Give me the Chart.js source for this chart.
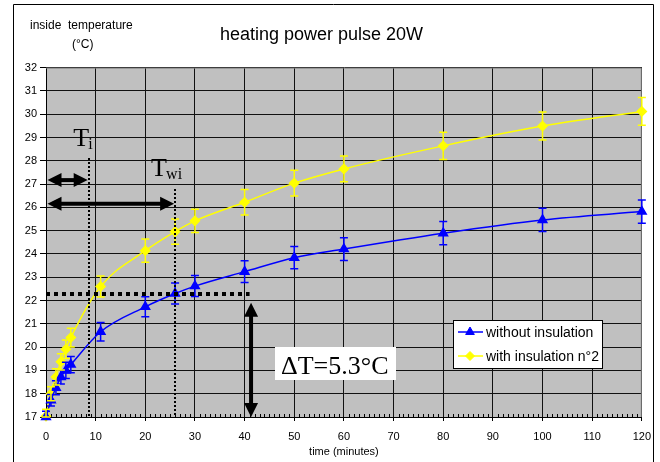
<!DOCTYPE html>
<html>
<head>
<meta charset="utf-8">
<script src="https://cdn.jsdelivr.net/npm/chart.js@4.4.1/dist/chart.umd.min.js"></script>
<style>
  html, body { margin: 0; padding: 0; background: #fff; }
  #wrap { width: 660px; height: 462px; }
</style>
</head>
<body>
<div id="wrap"><canvas id="chart" width="660" height="462"></canvas></div>
<script>
// time in minutes
const times = [0, 1, 2, 3, 4, 5, 11, 20, 26, 30, 40, 50, 60, 80, 100, 120];

const withoutInsulation = [17.0, 17.72, 18.26, 18.72, 19.0, 19.25, 20.66, 21.73, 22.3, 22.62, 23.24, 23.84, 24.21, 24.89, 25.46, 25.82];
const withoutErr = [0.25, 0.25, 0.3, 0.3, 0.35, 0.35, 0.4, 0.43, 0.45, 0.45, 0.47, 0.48, 0.49, 0.5, 0.5, 0.5];

const withInsulation = [17.03, 18.0, 18.72, 19.37, 19.91, 20.41, 22.6, 24.14, 24.96, 25.42, 26.22, 27.04, 27.65, 28.64, 29.49, 30.12];
const withErr = [0.3, 0.3, 0.35, 0.35, 0.4, 0.4, 0.45, 0.5, 0.54, 0.5, 0.55, 0.55, 0.55, 0.58, 0.6, 0.6];

const seriesNames = ["without insulation", "with insulation n°2"];

// annotation positions (data units)
const tiTime = 8.7;
const twiTime = 26;
const levelTemp = 22.3;
const deltaX = 41.3;

const sans = "Arial, 'Liberation Sans', sans-serif";
const serif = "'Times New Roman', 'Liberation Serif', serif";

function toPoints(values) {
  return times.map((t, i) => ({ x: t, y: values[i] }));
}

function arrowHead(ctx, x, y, angle, len, half) {
  ctx.save();
  ctx.translate(x, y);
  ctx.rotate(angle);
  ctx.beginPath();
  ctx.moveTo(0, 0);
  ctx.lineTo(-len, -half);
  ctx.lineTo(-len, half);
  ctx.closePath();
  ctx.fill();
  ctx.restore();
}

function doubleArrow(ctx, x1, y1, x2, y2) {
  const ang = Math.atan2(y2 - y1, x2 - x1);
  const len = 14;
  ctx.save();
  ctx.strokeStyle = "#000";
  ctx.fillStyle = "#000";
  ctx.lineWidth = 4;
  ctx.beginPath();
  ctx.moveTo(x1 + Math.cos(ang) * len * 0.8, y1 + Math.sin(ang) * len * 0.8);
  ctx.lineTo(x2 - Math.cos(ang) * len * 0.8, y2 - Math.sin(ang) * len * 0.8);
  ctx.stroke();
  arrowHead(ctx, x2, y2, ang, len, 7);
  arrowHead(ctx, x1, y1, ang + Math.PI, len, 7);
  ctx.restore();
}

const plotBackground = {
  id: "plotBackground",
  beforeDraw(chart) {
    const { ctx, chartArea: a } = chart;
    ctx.save();
    ctx.fillStyle = "#c0c0c0";
    ctx.fillRect(a.left, a.top, a.right - a.left, a.bottom - a.top);
    // outer frame
    ctx.strokeStyle = "#000";
    ctx.lineWidth = 1;
    ctx.beginPath();
    ctx.moveTo(13.5, 470);
    ctx.lineTo(13.5, 4.5);
    ctx.lineTo(653.5, 4.5);
    ctx.lineTo(653.5, 470);
    ctx.stroke();
    ctx.restore();
  },
  beforeDatasetsDraw(chart) {
    const { ctx, chartArea: a } = chart;
    const x = chart.scales.x;
    ctx.save();
    // grey border top/right of plot
    ctx.strokeStyle = "#808080";
    ctx.lineWidth = 1;
    ctx.beginPath();
    ctx.moveTo(a.left, a.top + 0.5);
    ctx.lineTo(a.right - 0.5, a.top + 0.5);
    ctx.lineTo(a.right - 0.5, a.bottom);
    ctx.stroke();
    // minor ticks on x axis
    ctx.strokeStyle = "#000";
    ctx.beginPath();
    for (let t = 1; t < 120; t++) {
      if (t % 10 === 0) continue;
      const px = Math.round(x.getPixelForValue(t)) + 0.5;
      ctx.moveTo(px, a.bottom);
      ctx.lineTo(px, a.bottom - 3);
    }
    ctx.stroke();
    // y axis title
    ctx.fillStyle = "#000";
    ctx.font = "12px " + sans;
    ctx.textBaseline = "middle";
    ctx.textAlign = "left";
    ctx.fillText("inside  temperature", 30, 26);
    ctx.fillText("(°C)", 72, 45);
    ctx.restore();
  }
};

const errorBars = {
  id: "errorBars",
  afterDatasetsDraw(chart) {
    const { ctx } = chart;
    const xs = chart.scales.x, ys = chart.scales.y;
    const sets = [
      { vals: withoutInsulation, err: withoutErr, color: "#0000ff" },
      { vals: withInsulation, err: withErr, color: "#ffff00" }
    ];
    ctx.save();
    ctx.lineWidth = 1.5;
    sets.forEach(s => {
      ctx.strokeStyle = s.color;
      ctx.beginPath();
      times.forEach((t, i) => {
        const px = xs.getPixelForValue(t);
        const top = ys.getPixelForValue(s.vals[i] + s.err[i]);
        const bot = ys.getPixelForValue(Math.max(17, s.vals[i] - s.err[i]));
        ctx.moveTo(px, top); ctx.lineTo(px, bot);
        ctx.moveTo(px - 4, top); ctx.lineTo(px + 4, top);
        ctx.moveTo(px - 4, bot); ctx.lineTo(px + 4, bot);
      });
      ctx.stroke();
    });
    ctx.restore();
  }
};

const annotations = {
  id: "annotations",
  afterDatasetsDraw(chart) {
    const { ctx } = chart;
    const xs = chart.scales.x, ys = chart.scales.y;
    const X = v => xs.getPixelForValue(v);
    const Y = v => ys.getPixelForValue(v);
    ctx.save();
    ctx.strokeStyle = "#000";
    // vertical dotted lines
    ctx.lineWidth = 2;
    ctx.setLineDash([2, 2]);
    ctx.beginPath();
    const xi = Math.round(X(tiTime)), xw = Math.round(X(twiTime));
    ctx.moveTo(xi, Math.round(Y(28.1))); ctx.lineTo(xi, Y(17));
    ctx.moveTo(xw, Math.round(Y(26.8))); ctx.lineTo(xw, Y(17));
    ctx.stroke();
    // horizontal level line
    ctx.lineWidth = 4;
    ctx.setLineDash([4, 4]);
    ctx.beginPath();
    ctx.moveTo(X(0), Math.round(Y(levelTemp))); ctx.lineTo(X(41), Math.round(Y(levelTemp)));
    ctx.stroke();
    ctx.setLineDash([]);
    // arrows
    doubleArrow(ctx, X(0.3), Y(27.17), X(tiTime - 0.3), Y(27.17));
    doubleArrow(ctx, X(0.3), Y(26.15), X(twiTime - 0.2), Y(26.15));
    doubleArrow(ctx, X(deltaX), Y(21.9), X(deltaX), Y(17));
    // labels
    ctx.fillStyle = "#000";
    ctx.textBaseline = "alphabetic";
    ctx.textAlign = "left";
    ctx.font = "26px " + serif;
    ctx.fillText("T", X(tiTime) - 16, Y(28.65));
    ctx.fillText("T", X(twiTime) - 24, Y(27.35));
    ctx.font = "16px " + serif;
    ctx.fillText("i", X(tiTime) - 1, Y(28.5));
    ctx.fillText("wi", X(twiTime) - 9, Y(27.2));
    // delta T box
    ctx.fillStyle = "#fff";
    ctx.fillRect(275, 347, 121, 33);
    ctx.fillStyle = "#000";
    ctx.font = "26px " + serif;
    ctx.fillText("ΔT=5.3°C", 281, 374);
    // legend
    const lx = 453, ly = 320;
    ctx.fillStyle = "#fff";
    ctx.fillRect(lx, ly, 149, 48);
    ctx.strokeStyle = "#000";
    ctx.lineWidth = 1;
    ctx.strokeRect(lx + 0.5, ly + 0.5, 149, 48);
    chart.data.datasets.forEach((ds, i) => {
      const cy = ly + 12 + i * 24;
      ctx.strokeStyle = ds.borderColor;
      ctx.lineWidth = 1.5;
      ctx.beginPath();
      ctx.moveTo(lx + 5, cy); ctx.lineTo(lx + 30, cy);
      ctx.stroke();
      ctx.fillStyle = ds.borderColor;
      ctx.strokeStyle = ds.borderColor;
      ctx.lineWidth = 1;
      Chart.helpers.drawPoint(ctx, { pointStyle: ds.pointStyle, radius: ds.pointRadius, borderWidth: 1 }, lx + 17, cy);
      ctx.fillStyle = "#000";
      ctx.font = "14px " + sans;
      ctx.textBaseline = "middle";
      ctx.fillText(seriesNames[i], lx + 33, cy + 1);
    });
    ctx.restore();
  }
};

new Chart(document.getElementById("chart"), {
  type: "line",
  data: {
    datasets: [
      {
        label: seriesNames[0],
        data: toPoints(withoutInsulation),
        borderColor: "#0000ff",
        backgroundColor: "#0000ff",
        borderWidth: 1.5,
        pointStyle: "triangle",
        pointRadius: 5,
        cubicInterpolationMode: "monotone",
        clip: false
      },
      {
        label: seriesNames[1],
        data: toPoints(withInsulation),
        borderColor: "#ffff00",
        backgroundColor: "#ffff00",
        borderWidth: 1.5,
        pointStyle: "rectRot",
        pointRadius: 4.5,
        cubicInterpolationMode: "monotone",
        clip: false
      }
    ]
  },
  options: {
    responsive: false,
    animation: false,
    layout: { padding: { left: 0, right: 17, top: 0, bottom: 0 } },
    plugins: {
      legend: { display: false },
      tooltip: { enabled: false },
      title: {
        display: true,
        text: "heating power pulse 20W",
        color: "#000",
        font: { family: sans, size: 18, weight: "normal" },
        padding: { top: 24, bottom: 22 }
      }
    },
    scales: {
      x: {
        type: "linear",
        min: 0,
        max: 120,
        afterFit(scale) { scale.height = 45; },
        ticks: { stepSize: 10, color: "#000", font: { family: sans, size: 11 }, padding: 9, maxRotation: 0 },
        grid: { color: "#111", tickColor: "#000", tickLength: 4, lineWidth: 1 },
        border: { color: "#000", width: 1 },
        title: { display: true, text: "time (minutes)", color: "#000", font: { family: sans, size: 11 }, padding: { top: 0, bottom: 3 } }
      },
      y: {
        min: 17,
        max: 32,
        afterFit(scale) { scale.width = 46; },
        ticks: { stepSize: 1, color: "#000", font: { family: sans, size: 11 }, padding: 3 },
        grid: { color: "#111", tickColor: "#000", tickLength: 6, lineWidth: 1 },
        border: { color: "#000", width: 1 }
      }
    }
  },
  plugins: [plotBackground, errorBars, annotations]
});
</script>
</body>
</html>
